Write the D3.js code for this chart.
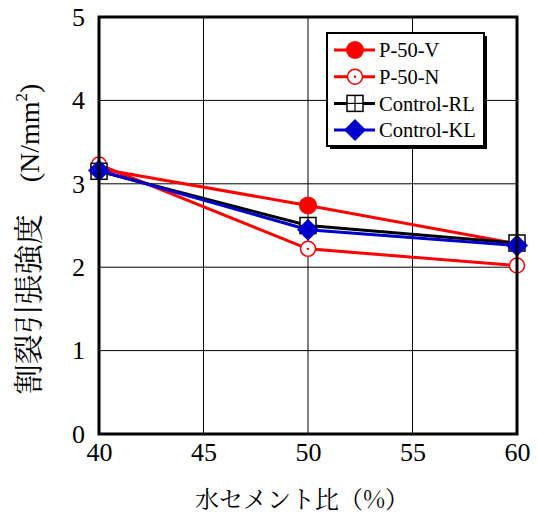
<!DOCTYPE html>
<html>
<head>
<meta charset="utf-8">
<script src="https://cdn.jsdelivr.net/npm/d3@7"></script>
<style>
  body { margin: 0; background: #fff; }
</style>
</head>
<body>
<div id="chart"></div>
<script>
// Data
const waterCementRatio = [40, 50, 60];
const p50v = [3.18, 2.74, 2.28];
const p50n = [3.23, 2.22, 2.02];
const controlRL = [3.15, 2.50, 2.29];
const controlKL = [3.16, 2.45, 2.26];
const xTicks = [40, 45, 50, 55, 60];
const yTicks = [0, 1, 2, 3, 4, 5];

const series = [
    { name: "P-50-V", values: p50v, color: "#ff0000", marker: "filledCircle" },
    { name: "P-50-N", values: p50n, color: "#ff0000", marker: "openCircle" },
    { name: "Control-RL", values: controlRL, color: "#000000", marker: "square" },
    { name: "Control-KL", values: controlKL, color: "#0000cc", marker: "diamond" }
];

const serif = "'Liberation Serif', serif";
const mincho = "'Noto Serif CJK JP', 'Liberation Serif', serif";

// Space
const W = 538, H = 514;
const margin = { top: 17, right: 21, bottom: 80, left: 99 },
  width = W - margin.left - margin.right,
  height = H - margin.top - margin.bottom;

const root = d3.select("#chart").append("svg")
    .attr("width", W)
    .attr("height", H);

const svg = root.append("g")
    .attr("transform", `translate(${margin.left},${margin.top})`);

const x = d3.scaleLinear().domain([40, 60]).range([0, width]);
const y = d3.scaleLinear().domain([0, 5]).range([height, 0]);

// Grid
svg.append("g")
    .selectAll("line")
    .data(xTicks.slice(1, -1))
    .join("line")
    .attr("x1", d => x(d)).attr("x2", d => x(d))
    .attr("y1", 0).attr("y2", height)
    .attr("stroke", "#000").attr("stroke-width", 1);

svg.append("g")
    .selectAll("line")
    .data(yTicks.slice(1, -1))
    .join("line")
    .attr("x1", 0).attr("x2", width)
    .attr("y1", d => y(d)).attr("y2", d => y(d))
    .attr("stroke", "#000").attr("stroke-width", 1);

// Axes tick labels
svg.append("g")
    .attr("transform", `translate(0,${height})`)
    .call(d3.axisBottom(x).tickValues(xTicks).tickSize(0).tickPadding(7).tickFormat(d3.format("d")))
    .call(g => g.select(".domain").remove())
    .selectAll("text")
    .style("font-family", serif)
    .style("font-size", "26px")
    .style("fill", "#000")
    .attr("dy", "0.75em");

svg.append("g")
    .call(d3.axisLeft(y).tickValues(yTicks).tickSize(0).tickPadding(14).tickFormat(d3.format("d")))
    .call(g => g.select(".domain").remove())
    .selectAll("text")
    .style("font-family", serif)
    .style("font-size", "26px")
    .style("fill", "#000");

// Series
const line = d3.line()
    .x((v, i) => x(waterCementRatio[i]))
    .y(v => y(v));

series.forEach(s => {
    svg.append("path")
        .attr("d", line(s.values))
        .attr("fill", "none")
        .attr("stroke", s.color)
        .attr("stroke-width", 3);
});

function drawMarker(g, type, color) {
    if (type === "filledCircle") {
        g.append("circle").attr("r", 9).attr("fill", color);
    } else if (type === "openCircle") {
        g.append("circle").attr("r", 7.5).attr("fill", "#fff").attr("stroke", color).attr("stroke-width", 1.5);
        g.append("circle").attr("r", 1.2).attr("fill", color);
    } else if (type === "square") {
        g.append("rect").attr("x", -8).attr("y", -8).attr("width", 16).attr("height", 16)
            .attr("fill", "#fff").attr("stroke", color).attr("stroke-width", 1.5);
        g.append("line").attr("x1", 0).attr("x2", 0).attr("y1", -8).attr("y2", 8)
            .attr("stroke", color).attr("stroke-width", 1.2);
        g.append("line").attr("x1", -8).attr("x2", 8).attr("y1", 0).attr("y2", 0)
            .attr("stroke", color).attr("stroke-width", 1.2);
    } else if (type === "diamond") {
        g.append("path").attr("d", "M0,-11L11,0L0,11L-11,0Z").attr("fill", color);
    }
}

series.forEach(s => {
    s.values.forEach((v, i) => {
        const g = svg.append("g")
            .attr("transform", `translate(${x(waterCementRatio[i])},${y(v)})`);
        drawMarker(g, s.marker, s.color);
    });
});

// Frame
svg.append("rect")
    .attr("width", width).attr("height", height)
    .attr("fill", "none").attr("stroke", "#000").attr("stroke-width", 3);

// Legend
const legend = root.append("g").attr("transform", "translate(327,33)");
legend.append("rect")
    .attr("x", 3).attr("y", 3).attr("width", 157).attr("height", 113)
    .attr("fill", "#000");
legend.append("rect")
    .attr("width", 157).attr("height", 113)
    .attr("fill", "#fff").attr("stroke", "#000").attr("stroke-width", 2);

series.forEach((s, i) => {
    const row = legend.append("g").attr("transform", `translate(0,${17 + i * 26.7})`);
    row.append("line")
        .attr("x1", 7).attr("x2", 48).attr("y1", 0).attr("y2", 0)
        .attr("stroke", s.color).attr("stroke-width", 3);
    const m = row.append("g").attr("transform", "translate(28,0)");
    drawMarker(m, s.marker, s.color);
    row.append("text")
        .attr("x", 52).attr("y", 0).attr("dy", "0.35em")
        .style("font-family", serif)
        .style("font-size", "20.5px")
        .text(s.name);
});

// Axis titles
root.append("text")
    .attr("x", 302)
    .attr("y", 508)
    .attr("text-anchor", "middle")
    .style("font-family", mincho)
    .style("font-size", "24px")
    .text("水セメント比（%）");

const yTitle = root.append("text")
    .attr("transform", "translate(39,239) rotate(-90)")
    .attr("text-anchor", "middle")
    .style("font-family", serif);
yTitle.append("tspan").style("font-family", mincho).style("font-size", "30px").text("割裂引張強度");
yTitle.append("tspan").style("font-size", "28px").attr("dx", 32).text("(N/mm");
yTitle.append("tspan").style("font-size", "17px").attr("dy", -12).text("2");
yTitle.append("tspan").style("font-size", "28px").attr("dy", 12).text(")");
</script>
</body>
</html>
